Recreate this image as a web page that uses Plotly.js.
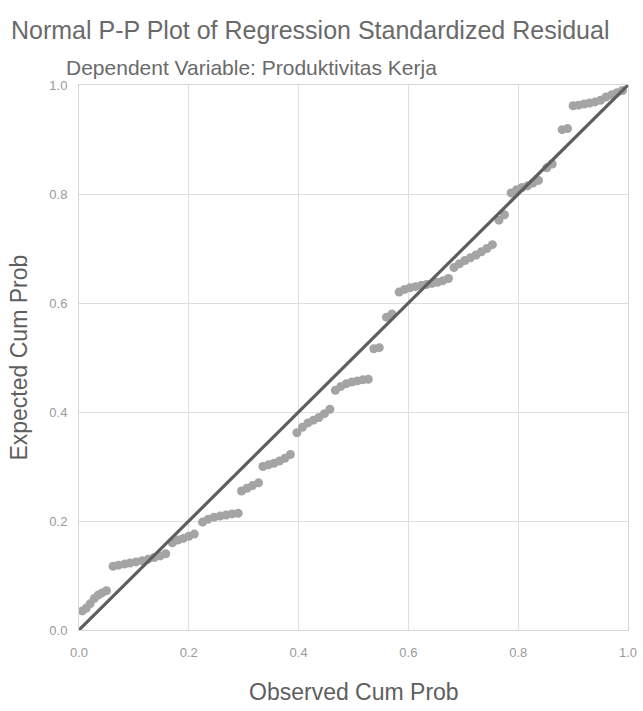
<!DOCTYPE html>
<html>
<head>
<meta charset="utf-8">
<script src="https://cdn.plot.ly/plotly-3.0.1.min.js"></script>
<style>html,body{margin:0;padding:0;background:#fff;}#chart{width:643px;height:711px;}</style>
</head>
<body>
<div id="chart"></div>
<script>
const observedCumProb = [
  0.006,0.013,0.020,0.028,0.035,0.042,0.050,
  0.062,0.072,0.083,0.093,0.104,0.115,0.126,0.137,0.148,0.158,
  0.170,0.180,0.190,0.200,0.210,
  0.225,0.235,0.246,0.257,0.268,0.279,0.290,
  0.296,0.306,0.316,0.327,
  0.335,0.345,0.355,0.365,0.375,0.385,
  0.397,0.407,0.417,0.427,0.437,0.447,0.457,
  0.467,0.477,0.487,0.497,0.507,0.517,0.527,
  0.537,0.547,
  0.560,0.570,
  0.583,0.593,0.603,0.613,0.623,0.633,0.643,0.653,0.663,0.673,
  0.683,0.693,0.703,0.713,0.723,0.733,0.743,0.753,
  0.765,0.775,
  0.787,0.797,0.807,0.817,0.827,0.837,
  0.852,0.862,
  0.880,0.890,
  0.900,0.910,0.920,0.930,0.940,0.950,
  0.960,0.970,0.980,0.990
];
const expectedCumProb = [
  0.035,0.040,0.048,0.058,0.064,0.068,0.072,
  0.117,0.119,0.121,0.123,0.125,0.127,0.130,0.133,0.136,0.140,
  0.160,0.165,0.168,0.172,0.176,
  0.198,0.203,0.207,0.209,0.211,0.213,0.214,
  0.255,0.260,0.265,0.270,
  0.300,0.303,0.306,0.310,0.315,0.322,
  0.362,0.372,0.380,0.385,0.390,0.397,0.405,
  0.440,0.447,0.452,0.455,0.457,0.459,0.460,
  0.516,0.518,
  0.574,0.580,
  0.620,0.625,0.628,0.630,0.632,0.634,0.636,0.638,0.641,0.645,
  0.665,0.672,0.678,0.683,0.688,0.694,0.700,0.707,
  0.752,0.762,
  0.802,0.808,0.812,0.815,0.820,0.825,
  0.848,0.855,
  0.918,0.920,
  0.962,0.963,0.965,0.967,0.969,0.972,
  0.978,0.982,0.986,0.990
];
const refLineX = [0, 1];
const refLineY = [0, 1];
const tickVals = [0, 0.2, 0.4, 0.6, 0.8, 1.0];
const tickText = ["0.0", "0.2", "0.4", "0.6", "0.8", "1.0"];

const FONT = "Liberation Sans, Arial, sans-serif";

const traces = [
  {
    x: observedCumProb, y: expectedCumProb,
    type: "scatter", mode: "markers",
    marker: {size: 9, color: "#a4a4a4", line: {width: 0}},
    hoverinfo: "x+y", showlegend: false
  },
  {
    x: refLineX, y: refLineY,
    type: "scatter", mode: "lines",
    line: {color: "#5e5e5e", width: 3.2},
    hoverinfo: "skip", showlegend: false
  }
];

const axisCommon = {
  range: [0, 1],
  tickvals: tickVals, ticktext: tickText,
  showgrid: true, gridcolor: "#dedede", gridwidth: 1,
  zeroline: false,
  showline: true, linecolor: "#d6d6d6", linewidth: 1, mirror: true,
  ticks: "",
  tickfont: {family: FONT, size: 13, color: "#9a9a9a"},
  fixedrange: true
};

const layout = {
  width: 643, height: 711,
  margin: {l: 79, r: 15, t: 85, b: 81},
  paper_bgcolor: "#ffffff", plot_bgcolor: "#ffffff",
  xaxis: Object.assign({}, axisCommon, {ticklabelstandoff: 10}),
  yaxis: Object.assign({}, axisCommon, {ticklabelstandoff: 8}),
  annotations: [
    {text: "Normal P-P Plot of Regression Standardized Residual", xref: "paper", yref: "paper",
     x: 0.421, y: 1.101, xanchor: "center", yanchor: "middle", showarrow: false,
     font: {family: FONT, size: 25, color: "#6a6a6a"}},
    {text: "Dependent Variable: Produktivitas Kerja", xref: "paper", yref: "paper",
     x: 0.315, y: 1.033, xanchor: "center", yanchor: "middle", showarrow: false,
     font: {family: FONT, size: 21, color: "#6a6a6a"}},
    {text: "Observed Cum Prob", xref: "paper", yref: "paper",
     x: 0.5, y: -0.114, xanchor: "center", yanchor: "middle", showarrow: false,
     font: {family: FONT, size: 23, color: "#5e5e5e"}},
    {text: "Expected Cum Prob", xref: "paper", yref: "paper",
     x: -0.111, y: 0.5, xanchor: "center", yanchor: "middle", showarrow: false, textangle: -90,
     font: {family: FONT, size: 23, color: "#5e5e5e"}}
  ]
};

Plotly.newPlot("chart", traces, layout, {displayModeBar: false, staticPlot: true});
</script>
</body>
</html>
